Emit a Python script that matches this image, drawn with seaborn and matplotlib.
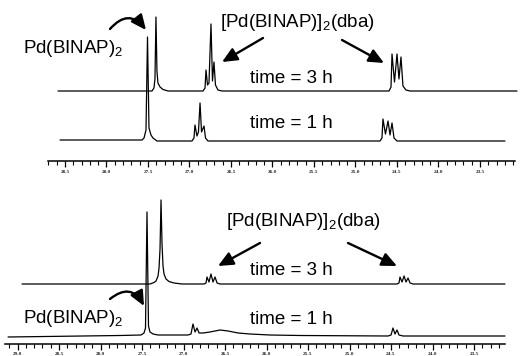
import matplotlib
matplotlib.use("Agg")
import matplotlib.pyplot as plt
import pandas as pd
import seaborn as sns

# ---------------- data: 31P NMR traces (ppm, intensity above baseline) ----------------
top_3h_ppm = [28.584, 27.452, 27.428, 27.416, 27.404, 27.392, 27.380, 27.355, 27.319, 27.259,
              26.837, 26.813, 26.801, 26.783, 26.765, 26.741, 26.723, 26.705, 26.687, 26.657, 26.608,
              24.596, 24.572, 24.560, 24.530, 24.500, 24.476, 24.452, 24.428, 24.392, 24.343, 23.054]
top_3h_int = [0, 0, 3, 12, 74, 20, 8, 4, 1.5, 0,
              0, 3, 21, 6, 8, 67, 10, 29, 6, 1, 0,
              0, 4, 37, 9, 37, 12, 34, 5, 1, 0, 0]

top_1h_ppm = [28.560, 27.572, 27.548, 27.524, 27.506, 27.488, 27.464, 27.440, 27.392,
              26.970, 26.946, 26.934, 26.910, 26.892, 26.873, 26.855, 26.825, 26.807, 26.777,
              24.705, 24.681, 24.669, 24.639, 24.608, 24.584, 24.560, 24.536, 24.500, 23.199]
top_1h_int = [0, 0, 2, 10, 103, 12, 5, 2, -1,
              -1, 2, 15, 4, 8, 37, 8, 14, 2, -1,
              -1, 2, 21, 6, 19, 5, 17, 2, -1, -1]

bot_3h_ppm = [28.946, 27.404, 27.355, 27.331, 27.307, 27.295, 27.283, 27.271, 27.259, 27.247,
              27.235, 27.211, 27.175, 27.114, 27.018,
              26.753, 26.729, 26.717, 26.693, 26.669, 26.645, 26.620, 26.596, 26.560,
              24.428, 24.404, 24.392, 24.367, 24.343, 24.319, 24.295, 24.271, 24.235, 23.127]
bot_3h_int = [0, 0, 1.5, 3, 8, 16, 35, 84, 40, 18,
              10, 5, 2.5, 1, 0,
              0, 1, 7, 2, 10, 2, 7, 1, 0,
              0, 1, 7, 2, 8, 2, 6, 1, 0, 0]

bot_1h_ppm = [29.114, 27.765, 27.512, 27.476, 27.458, 27.440, 27.422, 27.404, 27.367, 27.307,
              26.946, 26.910, 26.886, 26.861, 26.837, 26.813, 26.765, 26.681, 26.560, 26.464,
              26.343, 26.199, 25.958, 25.596,
              24.536, 24.500, 24.476, 24.452, 24.428, 24.404, 24.355, 23.127]
bot_1h_int = [-1, 0.5, 1, 3, 8, 124, 10, 4, 2, 1,
              1, 2, 12, 4, 8, 3, 3, 4, 6, 5,
              3, 2, 1, 0.5,
              0, 1, 8, 2, 6, 1, 0, 0]

top_ticks = [28.5, 28.0, 27.5, 27.0, 26.5, 26.0, 25.5, 25.0, 24.5, 24.0, 23.5]
top_tick_labels = ["28.5", "28.0", "27.5", "27.0", "26.5", "26.0", "25.5", "25.0", "24.5", "24.0", "23.5"]
bot_ticks = [29.0, 28.5, 28.0, 27.5, 27.0, 26.5, 26.0, 25.5, 25.0, 24.5, 24.0, 23.5]
bot_tick_labels = ["29.0", "28.5", "28.0", "27.5", "27.0", "26.5", "26.0", "25.5", "25.0", "24.5", "24.0", "23.5"]

# ---------------- style ----------------
sns.set_theme(style="white")
plt.rcParams["font.family"] = ["Liberation Sans", "DejaVu Sans"]
plt.rcParams["mathtext.fontset"] = "custom"
plt.rcParams["mathtext.rm"] = "Liberation Sans"
plt.rcParams["mathtext.default"] = "regular"

W, H = 520, 356
fig = plt.figure(figsize=(W / 100, H / 100), dpi=100)
fig.patch.set_facecolor("white")

def frame(ax, xlim, ylim, bounds, majors, labels, pad):
    ax.set_xlim(*xlim)
    ax.set_ylim(*ylim)
    ax.patch.set_visible(False)
    for s in ("left", "right", "top"):
        ax.spines[s].set_visible(False)
    ax.spines["bottom"].set_color("black")
    ax.spines["bottom"].set_linewidth(1.1)
    ax.spines["bottom"].set_bounds(*bounds)
    ax.set_yticks([])
    ax.set_xticks(majors)
    ax.set_xticklabels(labels, fontfamily="Liberation Serif", fontweight="bold")
    lo, hi = min(bounds), max(bounds)
    minors = [round(hi - 0.1 * i, 1) for i in range(0, 80)]
    minors = [m for m in minors if lo <= m <= hi and m not in majors]
    ax.set_xticks(minors, minor=True)
    ax.tick_params(axis="x", which="major", direction="out", length=4.5, width=0.9,
                   color="black", pad=pad, labelsize=3.8, bottom=True)
    ax.tick_params(axis="x", which="minor", direction="out", length=3, width=0.8,
                   color="black", bottom=True)
    ax.set_xlabel("")
    ax.set_ylabel("")

# top panel: axis line at y=161 px, bottom panel: axis line at y=344 px
ax_top = fig.add_axes([0, (H - 161) / H, 1, 161 / H])
ax_bot = fig.add_axes([0, (H - 344) / H, 1, 164 / H])

def traces(specs):
    frames = []
    for name, ppm, inten, off in specs:
        frames.append(pd.DataFrame({"ppm": ppm, "y": [v + off for v in inten], "trace": name}))
    return pd.concat(frames, ignore_index=True)

df_top = traces([("3h", top_3h_ppm, top_3h_int, 70), ("1h", top_1h_ppm, top_1h_int, 21)])
df_bot = traces([("3h", bot_3h_ppm, bot_3h_int, 60), ("1h", bot_1h_ppm, bot_1h_int, 8)])

for ax, df in ((ax_top, df_top), (ax_bot, df_bot)):
    sns.lineplot(data=df, x="ppm", y="y", units="trace", estimator=None, sort=False,
                 color="black", lw=0.9, ax=ax, legend=False)

frame(ax_top, (29.283, 23.018), (0, 161), (28.705, 23.078), top_ticks, top_tick_labels, 2.2)
frame(ax_bot, (29.211, 22.946), (0, 164), (29.151, 23.127), bot_ticks, bot_tick_labels, 1.6)

# ---------------- labels ----------------
FS = 13.5
def label(x, y, s):
    fig.text(x / W, 1 - y / H, s, fontsize=FS, ha="left", va="baseline", color="black")

label(23, 53, r"Pd(BINAP)$_2$")
label(220.5, 27, r"[Pd(BINAP)]$_2$(dba)")
label(250.5, 83, "time = 3 h")
label(250.5, 128, "time = 1 h")
label(225.5, 226.5, r"[Pd(BINAP)]$_2$(dba)")
label(250.5, 275, "time = 3 h")
label(250.5, 324, "time = 1 h")
label(23, 323, r"Pd(BINAP)$_2$")

def arrow(start, tip, rad=0.0):
    ax_top.annotate("", xy=(tip[0], H - tip[1]), xytext=(start[0], H - start[1]),
                    xycoords="figure pixels", textcoords="figure pixels",
                    arrowprops=dict(arrowstyle="-|>,head_length=0.75,head_width=0.34",
                                    lw=1.7, color="black", shrinkA=0, shrinkB=0,
                                    connectionstyle=f"arc3,rad={rad}"),
                    annotation_clip=False)

arrow((110, 29), (146, 30), rad=-0.6)
arrow((263, 38), (222, 62))
arrow((342, 40), (384, 63))
arrow((110, 299), (144, 306), rad=-0.6)
arrow((260, 243), (218, 266))
arrow((348, 243), (397, 266))

fig.savefig("out.png", dpi=100, facecolor="white")
